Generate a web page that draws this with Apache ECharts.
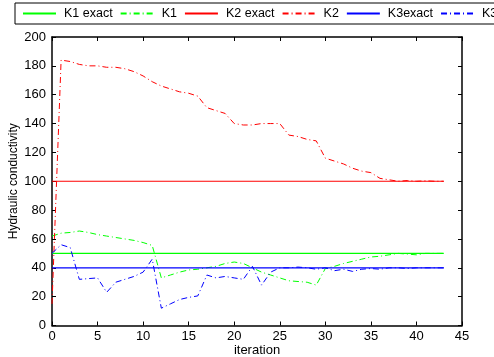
<!DOCTYPE html>
<html>
<head>
<meta charset="utf-8">
<script src="https://cdn.jsdelivr.net/npm/echarts@6/dist/echarts.min.js"></script>
<style>
  html, body { margin: 0; padding: 0; background: #fff; }
  #chart { width: 494px; height: 357px; }
</style>
</head>
<body>
<div id="chart"></div>
<script>
// iteration index 0..43
const iterations = Array.from({ length: 44 }, (_, i) => i);

const k1Exact = 50;
const k2Exact = 100;
const k3Exact = 40;

const k1Values = [62, 64, 64.5, 65.5, 64.5, 63, 62, 61, 60, 59, 57.5, 55.5,
  33, 35, 37, 38.5, 39, 40, 41, 43, 44, 43, 40, 37, 35, 33, 31, 30.5, 30, 28,
  39.5, 41, 43, 44.5, 46, 47.5, 48, 49, 50, 49.5, 49, 50, 50, 50];

const k2Values = [15, 184, 183, 181, 180, 180, 179, 179, 178, 176, 173, 169,
  166, 164, 162, 161, 159, 151, 149, 147, 140, 139, 139, 140, 140, 140, 132,
  131, 129, 128, 116, 114, 112, 109, 107, 106, 102, 101, 100, 100.5, 100,
  100.3, 100, 100];

const k3Values = [50, 56, 54, 32, 32.5, 33, 23, 30, 32, 34, 37, 46, 12, 15,
  18, 19.5, 20.5, 35, 33, 34, 33, 32, 41, 28, 37, 40, 40, 40.5, 40, 39, 40,
  38, 39, 37.5, 39, 39.5, 39, 40, 40, 39.5, 40, 40, 40, 40];

const font = "Liberation Sans";
const dashDot = [6, 3, 1, 3];

function pairs(values) {
  return values.map((v, i) => [iterations[i], v]);
}

function flat(value) {
  return [[iterations[0], value], [iterations[iterations.length - 1], value]];
}

function makeSeries(name, data, color, dashed) {
  return {
    name: name,
    type: "line",
    data: data,
    symbol: "none",
    // solid reference lines a bit heavier so they don't blur on half pixels
    lineStyle: { color: color, width: dashed ? 1 : 1.2, type: dashed ? dashDot : "solid" },
    itemStyle: { color: color },
    animation: false,
  };
}

const chart = echarts.init(document.getElementById("chart"));

const tickAxis = {
  min: 0,
  axisLine: { show: true, onZero: false, lineStyle: { color: "#000", width: 1.5 } },
  axisTick: { show: true, inside: true, length: 4, lineStyle: { color: "#000" } },
  splitLine: { show: false },
};

const option = {
  backgroundColor: "#fff",
  legend: {
    left: 15,
    top: 3,
    width: 600,
    padding: [4, 7],
    itemWidth: 33,
    itemHeight: 10,
    itemGap: 7,
    borderColor: "#000",
    borderWidth: 1,
    itemStyle: { color: "rgba(0,0,0,0)", borderColor: "rgba(0,0,0,0)", borderWidth: 0 },
    textStyle: { fontFamily: font, fontSize: 12.5, color: "#000", padding: [0, 0, 0, 3] },
    data: ["K1 exact", "K1", "K2 exact", "K2", "K3exact", "K3"],
  },
  grid: { left: 52, right: 32, top: 37, bottom: 31.5, outerBoundsMode: "none" },
  xAxis: [
    Object.assign({}, tickAxis, {
      type: "value",
      max: 45,
      interval: 5,
      name: "iteration",
      nameLocation: "middle",
      nameGap: 18,
      nameMoveOverlap: false,
      nameTextStyle: { fontFamily: font, fontSize: 13, color: "#000" },
      axisLabel: { fontFamily: font, fontSize: 13, color: "#000", margin: 4 },
    }),
    Object.assign({}, tickAxis, {
      type: "value",
      position: "top",
      max: 45,
      interval: 5,
      axisLabel: { show: false },
    }),
  ],
  yAxis: [
    Object.assign({}, tickAxis, {
      type: "value",
      max: 200,
      interval: 20,
      name: "Hydraulic conductivity",
      nameLocation: "middle",
      nameGap: 32,
      nameMoveOverlap: false,
      nameTextStyle: { fontFamily: font, fontSize: 12, color: "#000" },
      axisLabel: { fontFamily: font, fontSize: 13, color: "#000", margin: 6 },
    }),
    Object.assign({}, tickAxis, {
      type: "value",
      position: "right",
      max: 200,
      interval: 20,
      axisLabel: { show: false },
    }),
  ],
  series: [
    makeSeries("K1 exact", flat(k1Exact), "#00ff00", false),
    makeSeries("K1", pairs(k1Values), "#00ff00", true),
    makeSeries("K2 exact", flat(k2Exact), "#ff0000", false),
    makeSeries("K2", pairs(k2Values), "#ff0000", true),
    makeSeries("K3exact", flat(k3Exact), "#0000ff", false),
    makeSeries("K3", pairs(k3Values), "#0000ff", true),
  ],
};

chart.setOption(option);
</script>
</body>
</html>
